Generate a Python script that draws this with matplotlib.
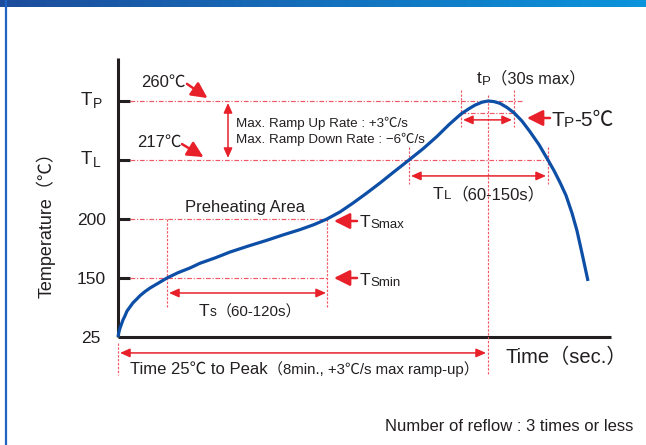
import numpy as np
import matplotlib.pyplot as plt
from matplotlib.colors import LinearSegmentedColormap

plt.rcParams['font.family'] = ['Liberation Sans', 'Noto Sans CJK JP', 'DejaVu Sans']

# temperature levels are drawn evenly spaced: 25, 150, 200, TL(217), TP(260)
level_labels = ['25', '150', '200']
level_pos = [0, 1, 2]
tl_level, tp_level = 3, 4
tp5_level = 3.80          # TP - 5 C

# key times (arbitrary seconds scale, origin at 25 C)
t_smin, t_smax = 49, 209
t_l1, t_l2 = 291, 430
t_p1, t_peak, t_p2 = 343, 370, 396

# reflow profile
curve_t = [0, 1, 2, 3.5, 5, 7, 9, 12, 15, 18, 22, 27, 32, 40, 49, 60, 72, 82, 97,
           112, 130, 149, 165, 182, 196, 209, 222, 235, 248, 262, 276, 291, 305,
           319, 331, 343, 351, 357, 364, 370, 376, 382, 389, 396, 404, 412, 421,
           430, 436, 442, 448, 454, 459, 464, 470]
curve_lv = [0, 0.09, 0.15, 0.22, 0.29, 0.36, 0.44, 0.51, 0.58, 0.63, 0.70, 0.77,
            0.83, 0.91, 1.00, 1.09, 1.17, 1.25, 1.34, 1.44, 1.54, 1.64, 1.73, 1.82,
            1.905, 2.00, 2.12, 2.27, 2.43, 2.61, 2.80, 3.00, 3.19, 3.40, 3.60, 3.78,
            3.87, 3.93, 3.98, 4.00, 3.99, 3.96, 3.89, 3.80, 3.66, 3.48, 3.26, 3.00,
            2.82, 2.62, 2.40, 2.10, 1.80, 1.42, 0.95]

RED = '#e8202a'
DASH = '#ef4f5c'
BLUE = '#0d4ea6'
AXC = '#231f20'

fig = plt.figure(figsize=(6.46, 4.45), dpi=100)
ax = fig.add_axes([0, 0, 1, 1])
ax.set_xlim(-118, 528)
ax.set_ylim(-108 / 59, 337 / 59)
ax.axis('off')

# frame: gradient bar on top and blue rule on the left
bar = fig.add_axes([0, 1 - 7 / 445, 1, 7 / 445])
bar.imshow(np.linspace(0, 1, 256)[None, :], aspect='auto',
           cmap=LinearSegmentedColormap.from_list('bar', ['#1d4c9c', '#0b94dc']))
bar.axis('off')
fig.add_artist(plt.Line2D([6 / 646, 6 / 646], [0, 1], color='#2163c1', lw=1.6))

# axes
ax.plot([0, 0], [0, 4.73], color=AXC, lw=2.2, solid_capstyle='butt')
ax.plot([0, 493], [0, 0], color=AXC, lw=2.2, solid_capstyle='butt')
for lv in [1, 2, tl_level, tp_level]:
    ax.plot([0, 12], [lv, lv], color=AXC, lw=2.2, solid_capstyle='butt')

# guide lines
hdash = (0, (4, 1.5, 1, 1.5))
vdash = (0, (2, 1.3))
gkw = dict(color=DASH, lw=0.85, alpha=0.95)
ax.plot([12, 405], [tp_level] * 2, ls=hdash, **gkw)
ax.plot([12, t_l2], [tl_level] * 2, ls=hdash, **gkw)
ax.plot([12, t_smax], [2, 2], ls=hdash, **gkw)
ax.plot([12, t_smax], [1, 1], ls=hdash, **gkw)
ax.plot([t_p1, t_p2], [tp5_level] * 2, ls=hdash, **gkw)
for t in [t_smin, t_smax]:
    ax.plot([t, t], [2, 0.51], ls=vdash, **gkw)
for t in [t_l1, t_l2]:
    ax.plot([t, t], [3.22, 2.59], ls=vdash, **gkw)
for t in [t_p1, t_p2]:
    ax.plot([t, t], [4.19, 3.56], ls=vdash, **gkw)
ax.plot([t_peak, t_peak], [4.10, -0.64], ls=vdash, **gkw)
ax.plot([0, 0], [-0.1, -0.64], ls=vdash, **gkw)

# profile
ax.plot(curve_t, curve_lv, color=BLUE, lw=2.3, solid_capstyle='butt',
        solid_joinstyle='round', zorder=5)


def darrow(x1, y1, x2, y2):
    ax.annotate('', xy=(x2, y2), xytext=(x1, y1),
                arrowprops=dict(arrowstyle='<|-|>,head_length=0.45,head_width=0.2',
                                mutation_scale=13, color=RED, lw=1.1,
                                shrinkA=0, shrinkB=0))


def barrow(x1, y1, x2, y2):
    ax.annotate('', xy=(x2, y2), xytext=(x1, y1), zorder=6,
                arrowprops=dict(arrowstyle='-|>,head_length=0.6,head_width=0.3',
                                mutation_scale=16, color=RED, lw=1.8,
                                shrinkA=0, shrinkB=0))


darrow(2, -0.27, 368, -0.27)
darrow(51, 0.746, 208, 0.746)
darrow(293, 2.73, 428, 2.73)
darrow(345, 3.68, 394, 3.68)
darrow(110, 3.966, 110, 3.034)

barrow(69, 4.29, 89.5, 4.05)
barrow(64, 3.27, 85.5, 3.05)
barrow(432, 3.712, 409, 3.712)
barrow(239, 1.966, 216, 1.966)
barrow(239, 1.0, 216, 1.0)


def label(x, y, parts, color=AXC):
    # parts: (text, size, rise in points relative to previous piece)
    txt, size, _ = parts[0]
    prev = ax.text(x, y, txt, fontsize=size, color=color, va='baseline', ha='left')
    for txt, size, rise in parts[1:]:
        prev = ax.annotate(txt, xy=(1, 0), xycoords=prev, xytext=(0, rise),
                           textcoords='offset points', fontsize=size, color=color,
                           va='bottom', ha='left')
    return prev


# temperature scale
for lab, lv, right in zip(level_labels, level_pos, [-18, -12, -12]):
    ax.text(right, lv - 0.11, lab, fontsize=12.5, color=AXC, ha='right', va='baseline')
label(-37, 3.93, [('T', 13.5, 0), ('P', 10, -1.2)])
label(-37, 2.93, [('T', 13.5, 0), ('L', 10, -1.2)])
ax.text(-72, 1.98, 'Temperature（℃）', fontsize=13, color=AXC, rotation=90,
        ha='center', va='center')

ax.text(23, 4.237, '260℃', fontsize=12, color=AXC, va='baseline')
ax.text(19, 3.22, '217℃', fontsize=12, color=AXC, va='baseline')
ax.text(118, 3.56, 'Max. Ramp Up Rate : +3℃/s', fontsize=9.6, color=AXC, va='baseline')
ax.text(118, 3.29, 'Max. Ramp Down Rate : −6℃/s', fontsize=9.6, color=AXC, va='baseline')

label(359, 4.305, [('t', 12.5, 0), ('P', 9.5, -1.2), ('（30s max）', 11.8, 0.6)])
label(433, 3.576, [('T', 15, 0), ('P', 11, 0.3), ('-5℃', 15, -0.3)])
label(315, 2.34, [('T', 12.5, 0), ('L', 9.5, -0.3), ('（60-150s）', 12, 0.0)])
ax.text(67, 2.12, 'Preheating Area', fontsize=12, color=AXC, va='baseline')
label(242, 1.864, [('T', 12.5, 0), ('Smax', 9.5, -1.0)])
label(242, 0.881, [('T', 12.5, 0), ('Smin', 9.5, -1.0)])
label(81, 0.356, [('T', 12.5, 0), ('s', 10, -0.3), ('（60-120s）', 10.8, 0.0)])
label(12, -0.627, [('Time 25℃ to Peak', 12, 0), ('（8min., +3℃/s max ramp-up）', 10.8, 0.0)])
ax.text(387, -0.441, 'Time（sec.）', fontsize=14.5, color=AXC, va='baseline')
ax.text(515, -1.593, 'Number of reflow : 3 times or less', fontsize=12, color=AXC,
        ha='right', va='baseline')

fig.savefig('out.png', dpi=100)
